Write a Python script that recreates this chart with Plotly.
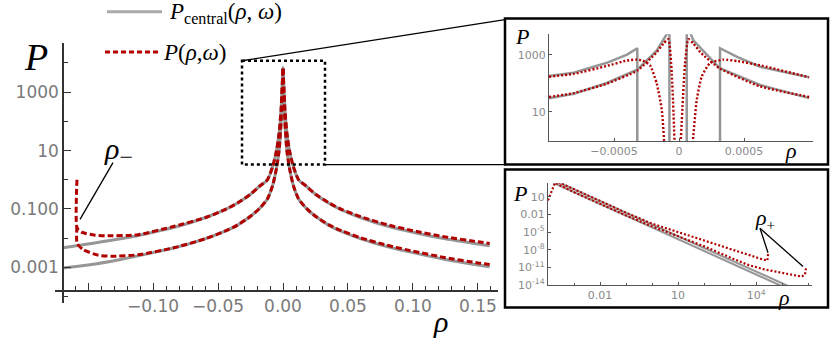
import plotly.graph_objects as go

W, H = 831, 343

# ---- main panel data (rho, P) ----
rho_main = [-0.169, -0.15, -0.125, -0.1, -0.08, -0.06, -0.045, -0.035, -0.025, -0.018,
            -0.012, -0.008, -0.005, -0.003, -0.0015, -0.0007, 0.0, 0.0007, 0.0015, 0.003,
            0.005, 0.008, 0.012, 0.018, 0.025, 0.035, 0.045, 0.06, 0.08, 0.1, 0.125, 0.15, 0.159]
p_central_hi = [4.7e-3, 6.3e-3, 9.5e-3, 1.6e-2, 2.6e-2, 5.0e-2, 9.3e-2, 0.16, 0.32, 0.6,
                1.0, 2.8, 10, 40, 250, 1260, 6900, 1260, 250, 40,
                10, 2.8, 1.0, 0.6, 0.32, 0.16, 9.3e-2, 5.0e-2, 2.6e-2, 1.6e-2, 9.5e-3, 6.3e-3, 5.5e-3]
p_central_lo = [9.5e-4, 1.2e-3, 1.86e-3, 3.2e-3, 5.2e-3, 9.5e-3, 0.017, 0.028, 0.056, 0.105,
                0.22, 0.63, 2.5, 10, 90, 800, 6900, 800, 90, 10,
                2.5, 0.63, 0.22, 0.105, 0.056, 0.028, 0.017, 9.5e-3, 5.2e-3, 3.2e-3, 1.86e-3, 1.2e-3, 1.05e-3]

rho_red = [-0.1585, -0.1584, -0.155, -0.1446, -0.137, -0.1115, -0.083,
           -0.06, -0.045, -0.035, -0.025, -0.018, -0.012, -0.008, -0.005, -0.003, -0.0015, -0.0007,
           0.0, 0.0007, 0.0015, 0.003, 0.005, 0.008, 0.012, 0.018, 0.025, 0.035, 0.045, 0.06,
           0.08, 0.1, 0.125, 0.15, 0.159]
p_red_hi = [1.0, 0.022, 0.016, 0.0126, 0.012, 0.0132, 0.026,
            0.05, 9.3e-2, 0.16, 0.32, 0.6, 1.0, 2.8, 10, 40, 250, 1260,
            6900, 1260, 250, 40, 10, 2.8, 1.0, 0.6, 0.32, 0.165, 0.097, 0.054,
            0.029, 0.018, 0.011, 7.5e-3, 6.6e-3]
rho_red_lo = [-0.1585, -0.1584, -0.1536, -0.142, -0.1315, -0.1115, -0.083,
              -0.06, -0.045, -0.035, -0.025, -0.018, -0.012, -0.008, -0.005, -0.003, -0.0015, -0.0007,
              0.0, 0.0007, 0.0015, 0.003, 0.005, 0.008, 0.012, 0.018, 0.025, 0.035, 0.045, 0.06,
              0.08, 0.1, 0.125, 0.15, 0.159]
p_red_lo = [0.025, 6.6e-3, 4.0e-3, 2.6e-3, 2.4e-3, 2.7e-3, 4.8e-3,
            9.5e-3, 0.017, 0.028, 0.056, 0.105, 0.22, 0.63, 2.5, 10, 90, 800,
            6900, 800, 90, 10, 2.5, 0.63, 0.22, 0.105, 0.056, 0.029, 0.018, 0.0102,
            5.7e-3, 3.6e-3, 2.15e-3, 1.42e-3, 1.25e-3]

# ---- zoom inset (small rho) ----
rho_z_g_hi = [-0.001, -0.00081, -0.00056, -0.0004, -0.000321, -0.000321, None,
              0.000315, 0.000315, 0.00045, 0.000623, 0.001]
p_z_g_hi = [178, 234, 513, 1020, 1700, 0.1, None, 0.1, 1700, 830, 380, 162]
rho_z_g_lo = [-0.001, -0.00081, -0.00056, -0.000321, -0.000172, -0.000074, -0.000074, None,
              0.000059, 0.000059, 0.00011, 0.000315, 0.000623, 0.001]
p_z_g_lo = [30, 43, 100, 300, 1400, 7500, 0.1, None, 0.1, 12000, 3200, 330, 87, 30]

rho_z_r_hi = [-0.001, -0.00081, -0.00056, -0.0004, -0.00033, -0.00028, -0.000223, -0.000172,
              -0.000133, -0.000108, None, 0.0000974, 0.000136, 0.000174, 0.000238, 0.000341,
              0.00045, 0.000623, 0.001]
p_z_r_hi = [170, 214, 400, 630, 676, 630, 427, 100, 12, 0.3, None,
            0.3, 26, 170, 513, 676, 600, 427, 162]
rho_z_r_lo = [-0.001, -0.00081, -0.00056, -0.000321, -0.000172, -0.00012, -0.000082, -0.000056,
              -0.000031, None, 0.0000077, 0.000046, 0.0000718, 0.00011, 0.000172, 0.000315,
              0.000623, 0.001]
p_z_r_lo = [33, 45, 95, 280, 1230, 2500, 3550, 220, 0.3, None,
            0.3, 490, 3550, 2500, 1120, 330, 78, 33]

# ---- log-log inset (large rho) ----
rho_l_g_hi = [2.5e-4, 1e-2, 1, 100, 1e4, 1.6e5]
p_l_g_hi = [3200, 2.0, 2.0e-4, 2.0e-8, 2.0e-12, 7.9e-15]
rho_l_g_lo = [1.6e-4, 1e-2, 1, 100, 1e4, 1e5]
p_l_g_lo = [2500, 0.63, 6.3e-5, 6.3e-9, 6.3e-13, 6.3e-15]
rho_l_r_hi = [2.5e-4, 1e-2, 0.1, 1, 10, 100, 1000, 4400, 1.9e4, 2.7e4, 2.95e4]
p_l_r_hi = [3200, 2.0, 0.02, 2.8e-4, 1e-5, 4e-7, 1.6e-8, 1.5e-9, 2.1e-10, 1.5e-10, 2.8e-9]
rho_l_r_lo = [1e-4, 1.4e-4, 1.86e-4, 1e-3, 1e-2, 0.1, 1, 10, 100, 1000, 4400, 1.9e4,
              8.3e4, 4.3e5, 5.75e5, 7.6e5, 8.3e5]
p_l_r_lo = [2.5, 160, 2500, 63, 0.63, 7e-3, 1e-4, 1.8e-6, 4e-8, 5e-10, 3.2e-11, 5e-12,
            1.26e-12, 3.6e-13, 2.75e-13, 6.3e-13, 8.7e-12]

GRAY = "rgb(150,150,150)"
RED = "#b00000"
TICKGRAY = "#7a7a7a"
MATH = "Liberation Serif"


def px(x):
    return x / W


def py(y):
    return 1 - y / H


fig = go.Figure()

# main panel
for ys in [p_central_hi, p_central_lo]:
    fig.add_trace(go.Scatter(x=rho_main, y=ys, mode="lines", xaxis="x", yaxis="y",
                             line=dict(color=GRAY, width=3, shape="spline", smoothing=0.8)))
for xs, ys in [(rho_red, p_red_hi), (rho_red_lo, p_red_lo)]:
    fig.add_trace(go.Scatter(x=xs, y=ys, mode="lines", xaxis="x", yaxis="y",
                             line=dict(color=RED, width=3, dash="6px,3px",
                                       shape="spline", smoothing=0.6)))

# zoom inset
for xs, ys in [(rho_z_g_hi, p_z_g_hi), (rho_z_g_lo, p_z_g_lo)]:
    fig.add_trace(go.Scatter(x=xs, y=ys, mode="lines", xaxis="x2", yaxis="y2",
                             line=dict(color=GRAY, width=2.5)))
for xs, ys in [(rho_z_r_hi, p_z_r_hi), (rho_z_r_lo, p_z_r_lo)]:
    fig.add_trace(go.Scatter(x=xs, y=ys, mode="lines", xaxis="x2", yaxis="y2",
                             line=dict(color=RED, width=2.4, dash="2px,2px",
                                       shape="spline", smoothing=0.5)))

# log-log inset
for xs, ys in [(rho_l_g_hi, p_l_g_hi), (rho_l_g_lo, p_l_g_lo)]:
    fig.add_trace(go.Scatter(x=xs, y=ys, mode="lines", xaxis="x3", yaxis="y3",
                             line=dict(color=GRAY, width=2)))
for xs, ys in [(rho_l_r_hi, p_l_r_hi), (rho_l_r_lo, p_l_r_lo)]:
    fig.add_trace(go.Scatter(x=xs, y=ys, mode="lines", xaxis="x3", yaxis="y3",
                             line=dict(color=RED, width=2.2, dash="2px,2px")))

tick_font_main = dict(family="DejaVu Sans", size=17, color=TICKGRAY)
tick_font_small = dict(family="DejaVu Sans", size=11, color="#8a8a8a")

axis_common = dict(showgrid=False, zeroline=False, showline=True, ticks="inside")

fig.update_layout(
    width=W, height=H, margin=dict(l=0, r=0, t=0, b=0),
    paper_bgcolor="white", plot_bgcolor="rgba(0,0,0,0)", showlegend=False,
    xaxis=dict(axis_common, domain=[px(55), px(498)], range=[-0.1754, 0.1654],
               anchor="free", position=py(297), linecolor="#333", linewidth=1.5,
               tickcolor="#333", ticklen=7, tickwidth=1.3,
               tickvals=[-0.15, -0.1, -0.05, 0, 0.05, 0.1, 0.15],
               ticktext=["", "−0.10", "−0.05", "0.00", "0.05", "0.10", "0.15"],
               minor=dict(dtick=0.01, ticks="inside", ticklen=4, tickcolor="#333"),
               tickfont=tick_font_main),
    yaxis=dict(axis_common, type="log", domain=[py(309), py(44)], range=[-4.21, 4.68],
               anchor="free", position=px(63), linecolor="#333", linewidth=1.5,
               tickcolor="#333", ticklen=7, tickwidth=1.3,
               tickvals=[1e-3, 1e-1, 10, 1000], ticktext=["0.001", "0.100", "10", "1000"],
               minor=dict(tickvals=[1e-4, 1e-2, 1, 100, 1e4], ticks="inside", ticklen=4,
                          tickcolor="#333"),
               tickfont=tick_font_main),
    xaxis2=dict(axis_common, domain=[px(549), px(813)], range=[-0.001, 0.00103],
                anchor="y2", linecolor="#555", linewidth=1.3, tickcolor="#555", ticklen=3,
                tickvals=[-0.0005, 0, 0.0005], ticktext=["−0.0005", "0", "0.0005"],
                tickfont=tick_font_small),
    yaxis2=dict(axis_common, type="log", domain=[py(144), py(35)], range=[-0.03, 3.72],
                anchor="x2", linecolor="#555", linewidth=1.3, tickcolor="#555", ticklen=3,
                tickvals=[10, 1000], ticktext=["10", "1000"], tickfont=tick_font_small),
    xaxis3=dict(axis_common, type="log", domain=[px(548), px(812)], range=[-4.0, 6.15],
                anchor="y3", linecolor="#555", linewidth=1.3, tickcolor="#555", ticklen=3,
                tickvals=[0.01, 10, 1e4], ticktext=["0.01", "10", "10<sup>4</sup>"],
                minor=dict(tickvals=[1e-3, 0.1, 1, 100, 1000, 1e5, 1e6], ticks="inside",
                           ticklen=2, tickcolor="#555"),
                tickfont=tick_font_small),
    yaxis3=dict(axis_common, type="log", domain=[py(291), py(187)], range=[-14, 3.33],
                anchor="x3", linecolor="#555", linewidth=1.3, tickcolor="#555", ticklen=3,
                tickvals=[10, 0.01, 1e-5, 1e-8, 1e-11, 1e-14],
                ticktext=["10", "0.01", "10<sup>-5</sup>", "10<sup>-8</sup>",
                          "10<sup>-11</sup>", "10<sup>-14</sup>"],
                tickfont=tick_font_small),
)


def seg(x0, y0, x1, y1, **line):
    fig.add_shape(type="line", xref="paper", yref="paper",
                  x0=px(x0), y0=py(y0), x1=px(x1), y1=py(y1), line=line)


def rect(x0, y0, x1, y1, **line):
    fig.add_shape(type="rect", xref="paper", yref="paper",
                  x0=px(x0), y0=py(y0), x1=px(x1), y1=py(y1), line=line)


def label(x, y, text, size, xanchor="center", family=MATH, color="black"):
    fig.add_annotation(x=px(x), y=py(y), xref="paper", yref="paper", text=text,
                       showarrow=False, xanchor=xanchor, yanchor="middle",
                       font=dict(family=family, size=size, color=color))


# inset frames and zoom markers
rect(505, 19, 828, 168, color="black", width=2.5)
rect(505, 173, 828, 314, color="black", width=2.5)
rect(242, 62, 325, 168, color="black", width=2.5, dash="dot")
seg(242, 62, 505, 20, color="black", width=1.3)
seg(325, 168, 505, 168, color="black", width=1.3)

# legend
seg(107, 12, 162, 12, color="rgb(170,170,170)", width=3)
label(167, 13, "<i>P</i><sub>central</sub>(<i>ρ</i>, <i>ω</i>)", 23, xanchor="left")
seg(105, 53, 160, 53, color=RED, width=3, dash="5px,3px")
label(161, 54, "<i>P</i>(<i>ρ</i>,<i>ω</i>)", 23, xanchor="left")

# axis labels
label(36, 58, "<i>P</i>", 38)
label(440, 328, "<i>ρ</i>", 30)
label(522, 37, "<i>P</i>", 22)
label(791, 154, "<i>ρ</i>", 22)
label(520, 198, "<i>P</i>", 22)
label(784, 304, "<i>ρ</i>", 22)

# rho_- and rho_+ markers
label(119, 154, "<i>ρ</i><sub><span style='font-size:24px'>−</span></sub>", 30)
seg(113, 166, 80, 224, color="black", width=1.3)
label(765, 224, "<i>ρ</i><sub>+</sub>", 22)
seg(760, 233, 768, 258, color="black", width=1.3)
seg(760, 233, 803, 272, color="black", width=1.3)

fig.write_html("out.html", post_script="document.body.style.margin='0';",
               config={"displayModeBar": False})
